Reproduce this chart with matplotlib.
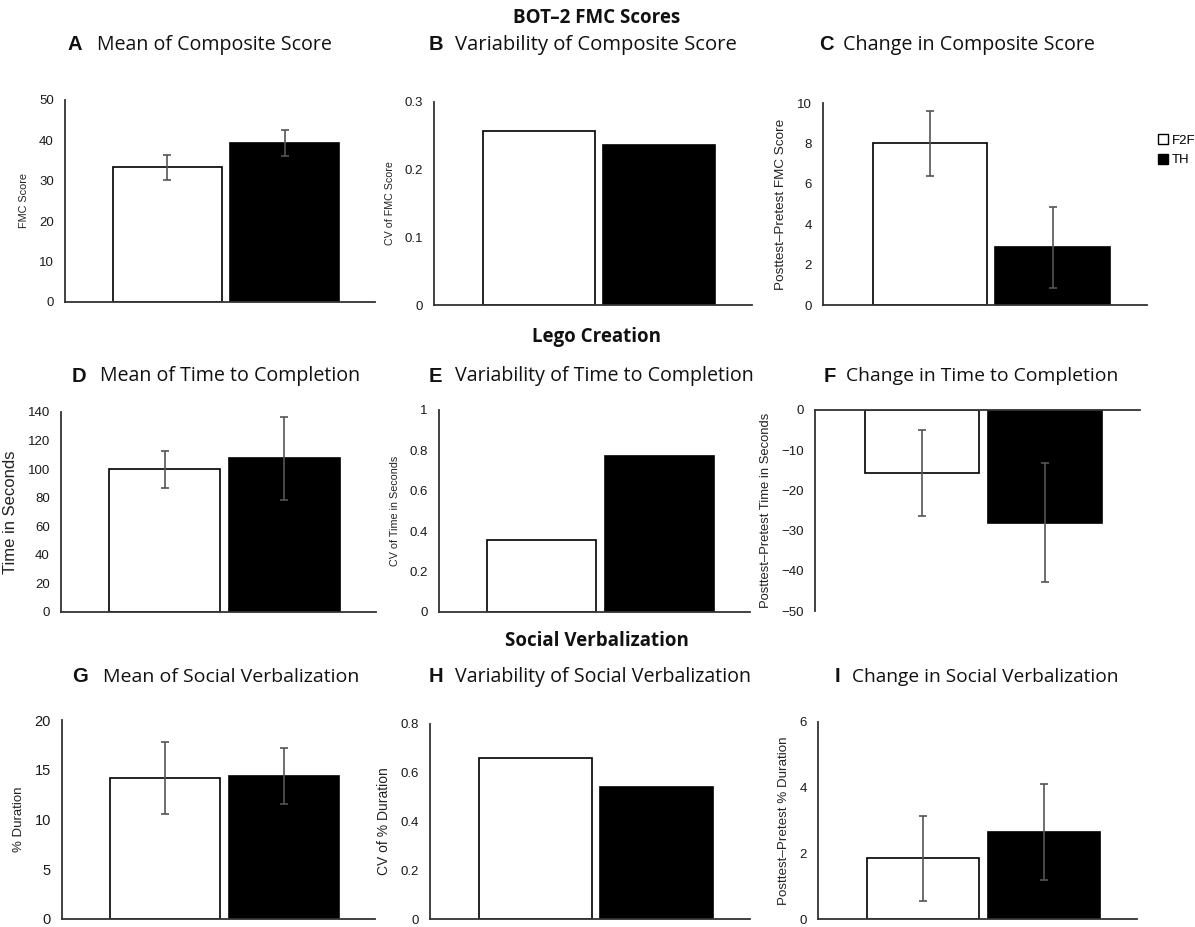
import matplotlib
matplotlib.use("Agg")
import matplotlib.pyplot as plt
from matplotlib.patches import Patch

W, H = 1195, 927
groups = ["F2F", "TH"]

# values [F2F, TH] and error half-widths
A_vals = [33.3, 39.3]; A_err = [3.2, 3.2]
B_vals = [0.257, 0.237]
C_vals = [8.0, 2.85]; C_err = [1.6, 2.0]
D_vals = [100.0, 107.5]; D_err = [13.0, 29.0]
E_vals = [0.355, 0.77]
F_vals = [-15.7, -28.0]; F_err = [10.7, 14.7]
G_vals = [14.2, 14.4]; G_err = [3.6, 2.8]
H_vals = [0.66, 0.54]
I_vals = [1.85, 2.65]; I_err = [1.3, 1.47]

section_titles = ["BOT\u20132 FMC Scores", "Lego Creation", "Social Verbalization"]

panels = [
    ("A", "Mean of Composite Score", "FMC Score", A_vals, A_err, (0, 50), [0, 10, 20, 30, 40, 50], None, (65, 100, 375, 302)),
    ("B", "Variability of Composite Score", "CV of FMC Score", B_vals, None, (0, 0.3), [0, 0.1, 0.2, 0.3], ["0", "0.1", "0.2", "0.3"], (434, 102, 752, 305)),
    ("C", "Change in Composite Score", "Posttest\u2013Pretest FMC Score", C_vals, C_err, (0, 10), [0, 2, 4, 6, 8, 10], None, (823, 103, 1147, 305)),
    ("D", "Mean of Time to Completion", "Time in Seconds", D_vals, D_err, (0, 140), [0, 20, 40, 60, 80, 100, 120, 140], None, (61, 412, 376, 612)),
    ("E", "Variability of Time to Completion", "CV of Time in Seconds", E_vals, None, (0, 1), [0, 0.2, 0.4, 0.6, 0.8, 1], ["0", "0.2", "0.4", "0.6", "0.8", "1"], (439, 410, 750, 612)),
    ("F", "Change in Time to Completion", "Posttest\u2013Pretest Time in Seconds", F_vals, F_err, (-50, 0), [-50, -40, -30, -20, -10, 0], None, (815, 410, 1140, 611)),
    ("G", "Mean of Social Verbalization", "% Duration", G_vals, G_err, (0, 20), [0, 5, 10, 15, 20], None, (62, 720, 375, 919)),
    ("H", "Variability of Social Verbalization", "CV of % Duration", H_vals, None, (0, 0.8), [0, 0.2, 0.4, 0.6, 0.8], ["0", "0.2", "0.4", "0.6", "0.8"], (430, 724, 750, 919)),
    ("I", "Change in Social Verbalization", "Posttest\u2013Pretest % Duration", I_vals, I_err, (0, 6), [0, 2, 4, 6], None, (818, 722, 1137, 919)),
]

# (letter_x, title_x, y) in pixels
title_pos = {
    "A": (67, 97, 45), "B": (429, 455, 45), "C": (819, 843, 45),
    "D": (72, 100, 376), "E": (429, 455, 376), "F": (824, 846, 376),
    "G": (72, 103, 677), "H": (429, 455, 677), "I": (835, 852, 677),
}
title_width = {"A": 236, "B": 283, "C": 254, "D": 262, "E": 300, "F": 275,
               "G": 257, "H": 297, "I": 268}
ylabel_len = {"A": 55, "B": 84, "C": 172, "D": 125, "E": 110, "F": 198,
              "G": 66, "H": 108, "I": 170}
tick_size = {"A": 9.5, "B": 9.5, "C": 9.5, "D": 9.5, "E": 9.5, "F": 9.5,
             "G": 10.5, "H": 9.5, "I": 9.5}
section_y = [18, 337, 641]

fig = plt.figure(figsize=(W / 100, H / 100), dpi=100)
fig.patch.set_facecolor("white")

tick_font = "Liberation Sans"
title_font = "Open Sans"

axes = {}
title_texts = {}
for idx, (letter, title, ylabel, vals, err, ylim, ticks, tlabels, px) in enumerate(panels):
    l, t, r, b = px
    ax = fig.add_axes([l / W, 1 - b / H, (r - l) / W, (b - t) / H])
    axes[letter] = ax
    x = [0, 1]
    colors = ["white", "black"]
    ax.bar(x, vals, width=0.93, color=colors, edgecolor="black", linewidth=1.2, zorder=2)
    if err is not None:
        ax.errorbar(x, vals, yerr=err, fmt="none", ecolor="#555555", elinewidth=1.2,
                    capsize=3, capthick=1.2, zorder=3)
    ax.set_xlim(-0.87, 1.77)
    ax.set_ylim(*ylim)
    ax.set_yticks(ticks)
    if tlabels is not None:
        ax.set_yticklabels(tlabels)
    ax.set_xticks([])
    for s in ["top", "right"]:
        ax.spines[s].set_visible(False)
    for s in ["left", "bottom"]:
        ax.spines[s].set_color("#333333")
        ax.spines[s].set_linewidth(1.3)
    if ylim[1] == 0:
        ax.spines["bottom"].set_position(("data", 0))
    ax.tick_params(axis="y", length=0, pad=8, labelsize=tick_size[letter], labelcolor="#1a1a1a")
    for lab in ax.get_yticklabels():
        lab.set_fontfamily(tick_font)
    ax.set_ylabel(ylabel, fontsize=7.8, fontfamily=tick_font, color="#222222", labelpad=7)

    lx, tx, ty = title_pos[letter]
    fig.text(lx / W, 1 - ty / H, letter, fontsize=14.5, fontweight="bold",
             fontfamily=tick_font, ha="left", va="center", color="#111111")
    title_texts[letter] = fig.text(tx / W, 1 - ty / H, title, fontsize=14,
                                   fontfamily=title_font, ha="left", va="center", color="#111111")

# fit title widths and ylabel lengths to reference
fig.canvas.draw()
renderer = fig.canvas.get_renderer()
for letter, txt in title_texts.items():
    w = txt.get_window_extent(renderer).width
    txt.set_fontsize(txt.get_fontsize() * title_width[letter] / w)
for letter, ax in axes.items():
    yl = ax.yaxis.label
    h = yl.get_window_extent(renderer).height
    yl.set_fontsize(yl.get_fontsize() * ylabel_len[letter] / h)

for s, y in zip(section_titles, section_y):
    fig.text(597 / W, 1 - y / H, s, fontsize=13.5, fontweight="bold",
             fontfamily=title_font, ha="center", va="center", color="#111111")

handles = [Patch(facecolor="white", edgecolor="black", linewidth=1.0, label="F2F"),
           Patch(facecolor="black", edgecolor="black", label="TH")]
fig.legend(handles=handles, loc="upper left", bbox_to_anchor=(1146 / W, 1 - 122 / H),
           frameon=False, handlelength=0.8, handleheight=0.8, handletextpad=0.25,
           labelspacing=0.55, prop={"family": tick_font, "size": 9.5})

fig.savefig("out.png", dpi=100, facecolor="white")
